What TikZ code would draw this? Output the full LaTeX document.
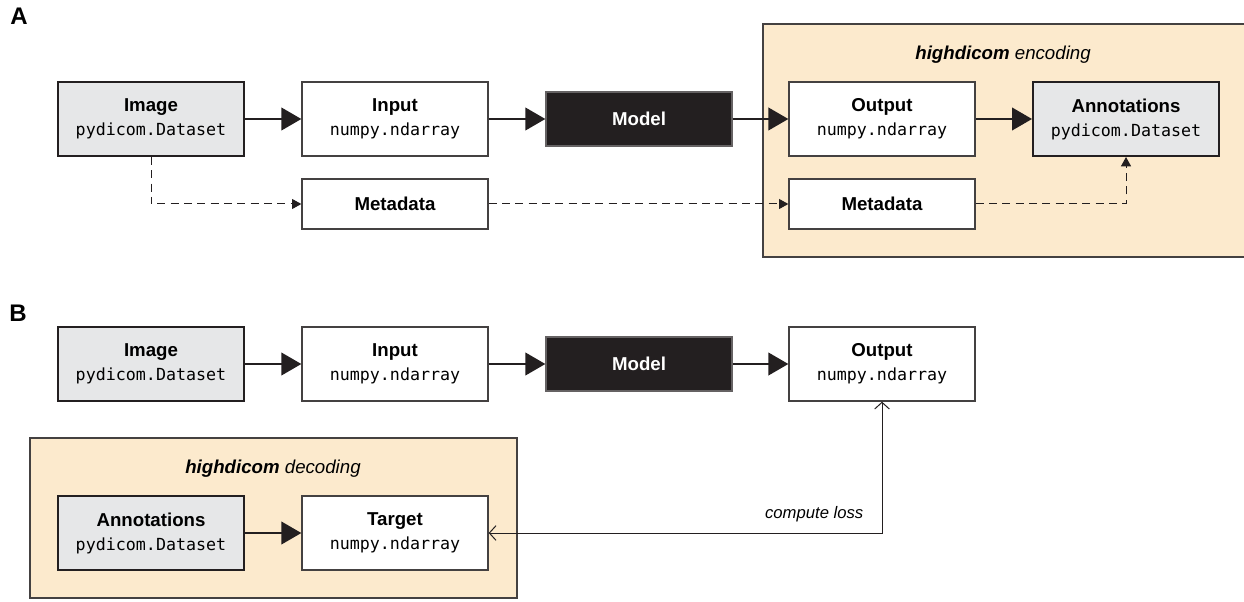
\documentclass[tikz,border=0pt]{standalone}
\usepackage{fontspec}
\setmainfont{Liberation Sans}
\setsansfont{Liberation Sans}
\setmonofont{DejaVu Sans Mono}
\usetikzlibrary{arrows.meta}
\definecolor{ink}{HTML}{231F20}
\definecolor{greyfill}{HTML}{E6E7E8}
\definecolor{panelfill}{HTML}{FCEACD}
\newcommand{\monoline}[1]{{\mdseries\ttfamily\fontsize{12.5}{18}\selectfont #1}}
\begin{document}
\begin{tikzpicture}[x=0.75pt,y=-0.75pt,
  box/.style={draw=ink!85, line width=1pt, fill=white, minimum width=139.5pt,
    minimum height=55.5pt, inner sep=0pt, align=center,
    font=\fontsize{14}{18}\selectfont\bfseries},
  greybox/.style={box, draw=ink, line width=1.5pt, fill=greyfill},
  metabox/.style={box, minimum height=37.5pt},
  modelbox/.style={box, fill=ink, draw=ink!70, text=white, minimum height=40.5pt},
  panel/.style={draw=ink!85, line width=1pt, fill=panelfill, inner sep=0pt},
  paneltitle/.style={font=\fontsize{14}{17}\selectfont\itshape},
  letter/.style={font=\fontsize{18}{20}\selectfont\bfseries},
  bigarrow/.style={draw=ink, line width=1.5pt, -{Triangle[length=15pt,width=17pt]}},
  dasharrow/.style={draw=ink, line width=0.75pt, dash pattern=on 6pt off 4pt,
    -{Triangle[length=7pt,width=7.5pt]}},
  lossarrow/.style={draw=ink, line width=0.75pt,
    {Straight Barb[length=5pt,width=11pt]}-{Straight Barb[length=5pt,width=11pt]}}
]
\useasboundingbox (0,0) rectangle (1244,602);

% ---------- Panel A ----------
\node[letter] (labA) at (19,16) {A};
\path[panel] (763,24) rectangle (1252,257);
\node[paneltitle] (enctitle) at (1003,55) {\textbf{highdicom} encoding};

\node[greybox] (imgA) at (151,119) {Image\\\monoline{pydicom.Dataset}};
\node[box] (inA) at (395,119) {Input\\\monoline{numpy.ndarray}};
\node[modelbox] (modA) at (639,119) {Model};
\node[box] (outA) at (882,119) {Output\\\monoline{numpy.ndarray}};
\node[greybox] (annA) at (1126,119) {Annotations\\\monoline{pydicom.Dataset}};
\node[metabox] (metA1) at (395,204) {Metadata};
\node[metabox] (metA2) at (882,204) {Metadata};

\draw[bigarrow] (imgA.east) -- (inA.west);
\draw[bigarrow] (inA.east) -- (modA.west);
\draw[bigarrow] (modA.east) -- (outA.west);
\draw[bigarrow] (outA.east) -- (annA.west);
\draw[dasharrow] (imgA.south) |- (metA1.west);
\draw[dasharrow] (metA1.east) -- (metA2.west);
\draw[dasharrow] (metA2.east) -| (annA.south);

% ---------- Panel B ----------
\node[letter] (labB) at (18,313) {B};
\path[panel] (30,438) rectangle (517,598);
\node[paneltitle] (dectitle) at (273,469) {\textbf{highdicom} decoding};

\node[greybox] (imgB) at (151,364) {Image\\\monoline{pydicom.Dataset}};
\node[box] (inB) at (395,364) {Input\\\monoline{numpy.ndarray}};
\node[modelbox] (modB) at (639,364) {Model};
\node[box] (outB) at (882,364) {Output\\\monoline{numpy.ndarray}};
\node[greybox] (annB) at (151,533) {Annotations\\\monoline{pydicom.Dataset}};
\node[box] (tgtB) at (395,533) {Target\\\monoline{numpy.ndarray}};

\draw[bigarrow] (imgB.east) -- (inB.west);
\draw[bigarrow] (inB.east) -- (modB.west);
\draw[bigarrow] (modB.east) -- (outB.west);
\draw[bigarrow] (annB.east) -- (tgtB.west);
\draw[lossarrow] (tgtB.east) -| (outB.south);
\node[anchor=base east, font=\fontsize{12.5}{15}\selectfont\itshape] (losslbl) at (868,518) {compute loss};
\end{tikzpicture}
\end{document}
